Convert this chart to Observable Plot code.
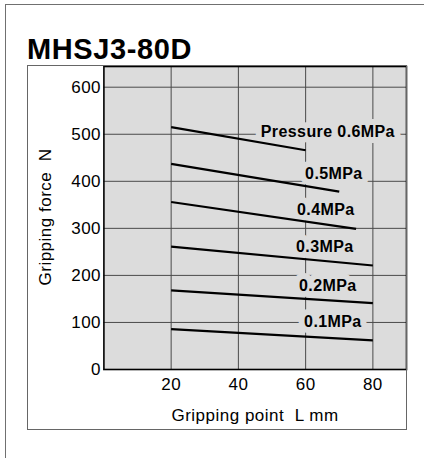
<!DOCTYPE html>
<html><head><meta charset="utf-8">
<script src="https://cdn.jsdelivr.net/npm/d3@7"></script>
<script src="https://cdn.jsdelivr.net/npm/@observablehq/plot@0.6"></script>
<style>
body{margin:0;background:#fff;font-family:"Liberation Sans",Arial,sans-serif;}
#page{position:relative;width:424px;height:458px;overflow:hidden;}
#chart{position:absolute;left:0;top:0;}
#outer{position:absolute;left:5px;top:4px;width:440px;height:470px;border-top:1.5px solid #707070;border-left:1.5px solid #707070;box-sizing:border-box;}
#box{position:absolute;left:27px;top:65.3px;width:379.5px;height:365px;border:1.5px solid #666;box-sizing:border-box;}
#title{position:absolute;left:27px;top:35px;font-size:29px;font-weight:bold;line-height:29px;color:#000;letter-spacing:0.6px;}
</style>
</head><body>
<div id="page">
  <div id="chart"></div>
  <div id="outer"></div>
  <div id="box"></div>
  <div id="title">MHSJ3-80D</div>
</div>
<script>
// Data
const pressures = ["0.6", "0.5", "0.4", "0.3", "0.2", "0.1"];
const startL = [20, 20, 20, 20, 20, 20];
const endL = [60, 70, 75, 80, 80, 80];
const startF = [515, 437, 356, 261, 168, 86];
const endF = [466, 378, 299, 221, 141, 62];

const labelTexts = ["Pressure 0.6MPa", "0.5MPa", "0.4MPa", "0.3MPa", "0.2MPa", "0.1MPa"];
const labelL = [66.6, 68.4, 66.0, 65.7, 66.6, 68.1];
const labelF = [504, 416, 339, 261, 178.5, 100.5];

const xTicks = [20, 40, 60, 80];
const yTicks = [0, 100, 200, 300, 400, 500, 600];

const lines = pressures.map((p, i) => ({p, x1: startL[i], x2: endL[i], y1: startF[i], y2: endF[i]}));
const labels = labelTexts.map((t, i) => ({t, x: labelL[i], y: labelF[i]}));

const W = 424, H = 458;
const plot = Plot.plot({
  width: W, height: H,
  marginLeft: 103.4, marginRight: 18, marginTop: 66, marginBottom: 89,
  style: {background: "transparent", fontFamily: "'Liberation Sans', Arial, sans-serif", fontSize: "17px", letterSpacing: "0.4px", color: "#000", overflow: "visible"},
  x: {domain: [0, 90], ticks: xTicks, tickSize: 0, tickPadding: 8, label: null},
  y: {domain: [0, 644], ticks: yTicks, tickSize: 0, tickPadding: 3, label: null},
  marks: [
    Plot.frame({fill: "#dcdcdc", stroke: null}),
    Plot.ruleX(xTicks, {stroke: "#4a4a4a", strokeWidth: 1}),
    Plot.ruleY(yTicks, {stroke: "#4a4a4a", strokeWidth: 1}),
    Plot.text(labels, {x: "x", y: "y", text: "t", fontWeight: "bold", fontSize: 16, fill: "#000",
      stroke: "#dcdcdc", strokeWidth: 12, strokeLinejoin: "round", paintOrder: "stroke"}),
    Plot.link(lines, {x1: "x1", y1: "y1", x2: "x2", y2: "y2", stroke: "#000", strokeWidth: 2.2}),
    Plot.frame({stroke: "#000", strokeWidth: 1.6})
  ]
});
document.getElementById("chart").appendChild(plot);

const svg = d3.select(plot);
svg.append("text")
  .attr("x", 255).attr("y", 421)
  .attr("text-anchor", "middle")
  .attr("fill", "#000")
  .style("font-size", "17px")
  .style("letter-spacing", "0.5px")
  .style("white-space", "pre")
  .text("Gripping point  L mm");
svg.append("text")
  .attr("transform", "translate(51,217) rotate(-90)")
  .attr("text-anchor", "middle")
  .attr("fill", "#000")
  .style("font-size", "17px")
  .style("letter-spacing", "0.5px")
  .style("white-space", "pre")
  .text("Gripping force  N");
</script>
</body></html>
